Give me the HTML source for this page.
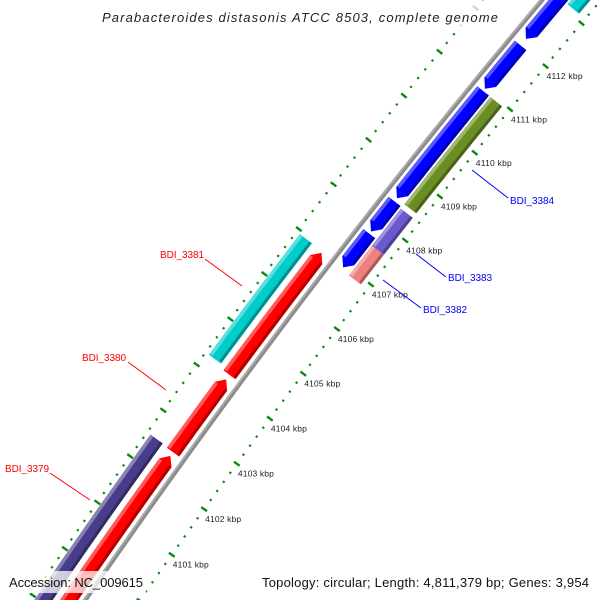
<!DOCTYPE html>
<html><head><meta charset="utf-8"><style>
html,body{margin:0;padding:0;background:#fff;overflow:hidden;width:600px;height:600px;}
svg{display:block;overflow:hidden;}
text{font-family:"Liberation Sans","DejaVu Sans",sans-serif;}
</style></head><body>
<svg id="chart" width="600" height="600" viewBox="0 0 600 600" xmlns="http://www.w3.org/2000/svg">
<g id="ticks"></g>
<g id="backbone"></g>
<g id="features"></g>
<g id="ticklabels"></g>
<g id="genelabels">
  <line x1="50" y1="473" x2="90" y2="500" stroke="#ff0000" stroke-width="1"/>
  <text x="5" y="472" font-size="10" fill="#ff0000" textLength="44">BDI_3379</text>
  <line x1="128" y1="362" x2="166" y2="390" stroke="#ff0000" stroke-width="1"/>
  <text x="82" y="361" font-size="10" fill="#ff0000" textLength="44">BDI_3380</text>
  <line x1="205" y1="259" x2="242" y2="286" stroke="#ff0000" stroke-width="1"/>
  <text x="160" y="258" font-size="10" fill="#ff0000" textLength="44">BDI_3381</text>
  <line x1="383" y1="280" x2="421" y2="308" stroke="#0000ff" stroke-width="1"/>
  <text x="423" y="313" font-size="10" fill="#0000ff" textLength="44">BDI_3382</text>
  <line x1="416" y1="254" x2="446" y2="277" stroke="#0000ff" stroke-width="1"/>
  <text x="448" y="281" font-size="10" fill="#0000ff" textLength="44">BDI_3383</text>
  <line x1="472" y1="170" x2="508" y2="198" stroke="#0000ff" stroke-width="1"/>
  <text x="510" y="204" font-size="10" fill="#0000ff" textLength="44">BDI_3384</text>
</g>
<rect x="96" y="4" width="410" height="24" fill="#fff" fill-opacity="0.75"/>
<text x="300" y="22" font-size="13" font-style="italic" text-anchor="middle" fill="#222" textLength="396">Parabacteroides distasonis ATCC 8503, complete genome</text>
<rect x="4" y="571" width="142" height="22" fill="#fff" fill-opacity="0.75"/>
<text x="9" y="587" font-size="13" fill="#111" textLength="134">Accession: NC_009615</text>
<rect x="256" y="571" width="340" height="22" fill="#fff" fill-opacity="0.75"/>
<text x="262" y="587" font-size="13" fill="#111" textLength="327">Topology: circular; Length: 4,811,379 bp; Genes: 3,954</text>
</svg>
<script>
// data
const tickStartKbp = 4099;
const tickEndKbp = 4114;
const tickLabelKbp = [4101,4102,4103,4104,4105,4106,4107,4108,4109,4110,4111,4112];
const featureNames = ["slate-gene","bdi-3379","bdi-3380","bdi-3381","bdi-3381-cyan","blue-1","blue-2","blue-3","blue-4","blue-5","bdi-3384","bdi-3383","bdi-3382","cyan-top"];
const featureStarts = [4098.5,4098.5,4102.50,4104.20,4104.27,4106.94,4107.75,4108.50,4111.00,4112.15,4108.50,4107.56,4106.89,4113.10];
const featureEnds   = [4102.52,4102.42,4104.10,4106.91,4106.94,4107.70,4108.43,4110.95,4112.00,4113.40,4110.95,4108.40,4107.56,4114.20];
const featureRows   = [3,2,2,2,3,1,1,1,1,1,0,0,0,0];
const featureDirs   = [0,1,1,1,0,-1,-1,-1,-1,-1,0,0,0,0];
const featureColors = ["#483d8b","#ff0000","#ff0000","#ff0000","#00cccc","#0000ff","#0000ff","#0000ff","#0000ff","#0000ff","#6b8e23","#6a5acd","#f08080","#00cccc"];

// geometry
const CX=6578, CY=5069, R=7882;
const rowR=[[7845,7860],[7862,7877],[7888,7903],[7909,7924]];
const TH0=215.58, DEG=0.409;
function ang(k){return (TH0+(k-4102)*DEG)*Math.PI/180;}
function pt(k,r){const a=ang(k);return [CX+r*Math.cos(a), CY+r*Math.sin(a)];}
const NS="http://www.w3.org/2000/svg";
function mk(tag,attrs,parent){const e=document.createElementNS(NS,tag);for(const k in attrs)e.setAttribute(k,attrs[k]);parent.appendChild(e);return e;}
function arcPts(k1,k2,r,n){const p=[];for(let i=0;i<=n;i++){p.push(pt(k1+(k2-k1)*i/n,r));}return p;}
function poly(p){return p.map(q=>q[0].toFixed(2)+","+q[1].toFixed(2)).join(" ");}

const gT=document.getElementById("ticks");
const gB=document.getElementById("backbone");
const gF=document.getElementById("features");
const gL=document.getElementById("ticklabels");

// tick rings: minor every 0.2 kbp, major every 1 kbp
const ringR=[7837,7928];
for(let ri=0;ri<2;ri++){
  for(let i=0;i<=(tickEndKbp-tickStartKbp)*5;i++){
    const k=tickStartKbp+i/5;
    const major=(i%5===0);
    const r=ringR[ri];
    const len=major?3.5:1.1;
    const a=pt(k,r-len), b=pt(k,r+len);
    const t=mk("line",{x1:a[0],y1:a[1],x2:b[0],y2:b[1],stroke:"#0a8a0a","stroke-width":major?2.4:2.2,"stroke-linecap":"butt"},gT);
    
    
  }
}
// backbone
const bb1=mk("polyline",{points:poly(arcPts(4098,4115,R,40)),fill:"none",stroke:"#8c8c8c","stroke-width":4.5},gB);


const bb2=mk("polyline",{points:poly(arcPts(4098,4115,R+1.2,40)),fill:"none",stroke:"#b4b4b4","stroke-width":1.2},gB);



function shade(hex,f){const n=parseInt(hex.slice(1),16);let r=n>>16,g=(n>>8)&255,b=n&255;
  if(f>0){r=r+(255-r)*f;g=g+(255-g)*f;b=b+(255-b)*f;}else{r=r*(1+f);g=g*(1+f);b=b*(1+f);}
  return "rgb("+Math.round(r)+","+Math.round(g)+","+Math.round(b)+")";}

// features
const HEAD=0.15;
for(let i=0;i<featureNames.length;i++){
  const k1=featureStarts[i], k2=featureEnds[i];
  const [ri,ro]=rowR[featureRows[i]];
  const rm=(ri+ro)/2;
  const d=featureDirs[i];
  let a1=k1,a2=k2;
  if(d===1)a2=k2-HEAD; if(d===-1)a1=k1+HEAD;
  let p=arcPts(a1,a2,ro,12);
  if(d===1)p.push(pt(k2,rm));
  p=p.concat(arcPts(a2,a1,ri,12));
  if(d===-1)p.push(pt(k1,rm));
  const g=mk("g",{},gF);
  
  
  const body=mk("polygon",{points:poly(p),fill:featureColors[i]},g);
  
  
  const lo=arcPts(a1+0.02,a2,ro,12).concat(arcPts(a2,a1+0.02,ro-3.5,12));
  const s1=mk("polygon",{points:poly(lo),fill:shade(featureColors[i],0.35)},g);
  
  
  const di=arcPts(a1+0.02,a2,ri+3,12).concat(arcPts(a2,a1+0.02,ri,12));
  const s2=mk("polygon",{points:poly(di),fill:shade(featureColors[i],-0.3)},g);
  
  
}

// tick labels
for(const k of tickLabelKbp){
  const p=pt(k,7837);
  const t=mk("text",{x:p[0]+1,y:p[1]+13,"font-size":"8.5",fill:"#222",textLength:"36"},gL);
  
  
  t.textContent=k+" kbp";
}
</script>
</body></html>
